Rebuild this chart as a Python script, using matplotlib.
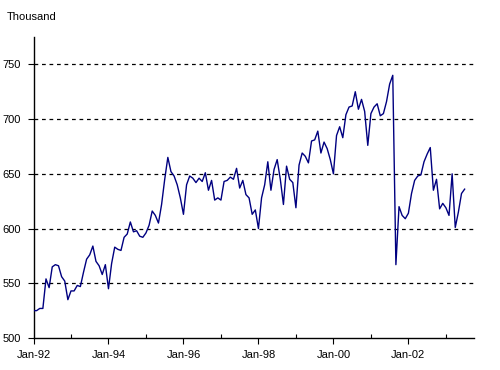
import numpy as np
import matplotlib
matplotlib.use('Agg')
import matplotlib.pyplot as plt

plt.rcParams['font.family'] = ['Liberation Sans', 'DejaVu Sans']

# monthly values, Jan-92 .. Jul-03 (thousand)
values = [
    525, 525, 527, 527, 554, 546, 565, 567, 566, 556, 552, 535,
    543, 543, 548, 547, 560, 572, 576, 584, 570, 566, 558, 567,
    545, 568, 583, 581, 580, 592, 595, 606, 597, 598, 593, 592,
    596, 603, 616, 612, 605, 622, 645, 665, 652, 648, 640, 628,
    613, 640, 648, 646, 642, 646, 643, 651, 635, 644, 626, 628,
    626, 643, 644, 647, 645, 655, 637, 644, 631, 628, 613, 617,
    600, 628, 640, 661, 635, 654, 663, 645, 622, 657, 645, 642,
    619, 658, 669, 666, 660, 680, 681, 689, 669, 679, 673, 663,
    650, 685, 693, 683, 704, 711, 712, 725, 709, 718, 707, 676,
    705, 711, 714, 703, 705, 716, 732, 740, 567, 620, 612, 609,
    614, 632, 644, 648, 649, 661, 668, 674, 635, 645, 618, 623,
    619, 612, 650, 601, 615, 632, 636,
]
tick_labels = ['Jan-92', 'Jan-94', 'Jan-96', 'Jan-98', 'Jan-00', 'Jan-02']
y_ticks = [500, 550, 600, 650, 700, 750]

months = np.arange(len(values))

fig = plt.figure(figsize=(5, 3.7), dpi=100)
ax = fig.add_axes([0.067, 0.0865, 0.881, 0.8135])

for y in y_ticks[1:]:
    ax.axhline(y, color='black', lw=0.9, ls=(0, (3, 3)), zorder=1)

ax.plot(months, values, color='#000080', lw=1.0, zorder=3)

ax.set_xlim(0, 141)
ax.set_ylim(500, 775)
ax.set_yticks(y_ticks)
ax.set_xticks(np.arange(0, 121, 24))
ax.set_xticklabels(tick_labels)
ax.set_xticks(np.arange(12, 141, 24), minor=True)

ax.tick_params(axis='both', which='major', labelsize=8, length=4, width=0.8, direction='out', pad=5)
ax.tick_params(axis='x', which='minor', length=3, width=0.8, direction='in')

for s in ['top', 'right']:
    ax.spines[s].set_visible(False)
for s in ['left', 'bottom']:
    ax.spines[s].set_linewidth(1.0)

fig.text(0.014, 0.955, 'Thousand', fontsize=8, ha='left', va='center')

plt.savefig('out.png', dpi=100)
